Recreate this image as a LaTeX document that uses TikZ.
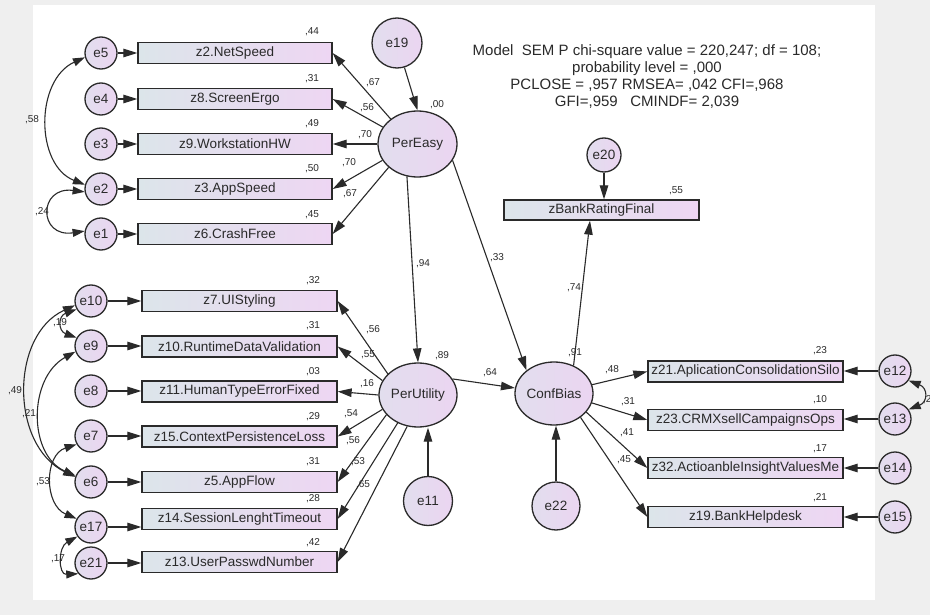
\documentclass[tikz,border=0pt]{standalone}
\usepackage{fontspec}
\setmainfont{Liberation Sans}
\usetikzlibrary{arrows.meta,shapes.geometric,calc}
\definecolor{bgray}{HTML}{EFEFEF}
\definecolor{boxL}{HTML}{DCE5EA}
\definecolor{boxR}{HTML}{EED6F3}
\definecolor{cirL}{HTML}{E2DEEE}
\definecolor{cirR}{HTML}{EBD5F1}
\definecolor{ink}{HTML}{2A2A2A}
\begin{document}
\begin{tikzpicture}[x=1pt,y=-1pt,
 font=\fontsize{13.5}{15}\selectfont,
 obs/.style={draw=ink, line width=1.3pt, left color=boxL, right color=boxR, minimum width=194pt, minimum height=21pt, inner sep=0pt, text=ink},
 err/.style={circle, draw=ink, line width=1.3pt, left color=cirL, right color=cirR, minimum size=32pt, inner sep=0pt, text=ink},
 lat/.style={ellipse, draw=ink, line width=1.3pt, left color=cirL, right color=cirR, minimum width=78pt, minimum height=64pt, inner sep=0pt, text=ink},
 arr/.style={draw=ink, line width=1.1pt, -{Triangle[length=14pt,width=8.5pt]}},
 dbl/.style={draw=ink, line width=1.1pt, {Triangle[length=12pt,width=8pt]}-{Triangle[length=12pt,width=8pt]}},
 lab/.style={font=\fontsize{10}{12}\selectfont, text=ink, inner sep=0pt},
]
\useasboundingbox (0,0) rectangle (930,615);
\fill[bgray] (0,0) rectangle (930,615);
\fill[white] (33,5) rectangle (875,600);

% ---- top group ----
\node[err] (e5) at (101,53) {e5};
\node[err] (e4) at (101,99) {e4};
\node[err] (e3) at (101,144) {e3};
\node[err] (e2) at (101,189) {e2};
\node[err] (e1) at (101,234) {e1};
\node[obs] (z2) at (235,53) {z2.NetSpeed};
\node[obs] (z8) at (235,99) {z8.ScreenErgo};
\node[obs] (z9) at (235,144) {z9.WorkstationHW};
\node[obs] (z3) at (235,189) {z3.AppSpeed};
\node[obs] (z6) at (235,234) {z6.CrashFree};
\node[lat, minimum width=79pt, minimum height=66pt] (PerEasy) at (417.5,144) {PerEasy};
\node[err, minimum size=50pt] (e19) at (397,43) {e19};

\foreach \e/\z in {e5/z2,e4/z8,e3/z9,e2/z3,e1/z6} \draw[arr] (\e) -- (\z.west);
\draw[arr] (e19) -- (PerEasy.north);
\draw[arr] (PerEasy.137) -- (z2.east);
\draw[arr] (PerEasy.154) -- (z8.east);
\draw[arr] (PerEasy.180) -- (z9.east);
\draw[arr] (PerEasy.205) -- (z3.east);
\draw[arr] (PerEasy.219) -- (z6.east);
\draw[dbl] (e5.195) .. controls (35,80) and (35,165) .. (e2.165);
\draw[dbl] (e2.190) .. controls (38,186) and (38,238) .. (e1.170);

\node[lab] (r1) at (312,32) {,44};
\node[lab] (r2) at (312,79) {,31};
\node[lab] (r3) at (312,124) {,49};
\node[lab] (r4) at (312,169) {,50};
\node[lab] (r5) at (312,215) {,45};
\node[lab] (r6) at (437,105) {,00};
\node[lab] (p1) at (373,83) {,67};
\node[lab] (p2) at (367,108) {,56};
\node[lab] (p3) at (365,135) {,70};
\node[lab] (p4) at (349,163) {,70};
\node[lab] (p5) at (350,194) {,67};
\node[lab] (c1) at (32,120) {,58};
\node[lab] (c2) at (42,212) {,24};

% ---- fit text ----
\node[font=\fontsize{15}{17}\selectfont, align=center, text=ink, inner sep=0pt] (fit) at (647,77)
 {Model\ \ SEM P chi-square value = 220,247; df = 108;\\ probability level = ,000\\ PCLOSE = ,957 RMSEA= ,042 CFI=,968\\ GFI=,959\ \ \ CMINDF= 2,039};

% ---- zBankRatingFinal ----
\node[err, minimum size=34pt] (e20) at (604,155) {e20};
\node[obs, minimum width=195pt, minimum height=20pt] (zb) at (601.5,210) {zBankRatingFinal};
\draw[arr] (e20) -- (e20 |- zb.north);
\node[lab] (r7) at (676,191) {,55};

% ---- middle group ----
\node[err] (e10) at (91,301) {e10};
\node[err] (e9) at (91,346) {e9};
\node[err] (e8) at (91,391) {e8};
\node[err] (e7) at (91,436) {e7};
\node[err] (e6) at (91,482) {e6};
\node[err] (e17) at (91,527) {e17};
\node[err] (e21) at (91,563) {e21};
\node[obs, minimum width=195pt] (z7) at (239.5,301) {z7.UIStyling};
\node[obs, minimum width=195pt] (z10) at (239.5,346.5) {z10.RuntimeDataValidation};
\node[obs, minimum width=195pt] (z11) at (239.5,391.5) {z11.HumanTypeErrorFixed};
\node[obs, minimum width=195pt] (z15) at (239.5,436.5) {z15.ContextPersistenceLoss};
\node[obs, minimum width=195pt] (z5) at (239.5,482) {z5.AppFlow};
\node[obs, minimum width=195pt] (z14) at (239.5,519) {z14.SessionLenghtTimeout};
\node[obs, minimum width=195pt] (z13) at (239.5,562) {z13.UserPasswdNumber};
\node[lat] (PerUtility) at (418,395) {PerUtility};
\node[err, minimum size=49pt] (e11) at (428,501) {e11};

\foreach \e/\z in {e10/z7,e9/z10,e8/z11,e7/z15,e6/z5,e21/z13} \draw[arr] (\e) -- (\e -| \z.west);
\draw[arr] (e17) -- (e17 -| z14.west);
\draw[arr] (e11) -- (PerUtility.south -| e11);
\draw[arr] (PerUtility.145) -- (z7.east);
\draw[arr] (PerUtility.158) -- (z10.east);
\draw[arr] (PerUtility.180) -- (z11.east);
\draw[arr] (PerUtility.202) -- (z15.east);
\draw[arr] (PerUtility.212) -- (z5.east);
\draw[arr] (PerUtility.234) -- (z14.east);
\draw[arr] (PerUtility.251) -- (z13.east);
\draw[arr] (PerEasy.-108) -- (PerUtility.north);

\draw[dbl] (e10.210) .. controls (58,316) and (58,331) .. (e9.150);
\draw[dbl] (e10.195) .. controls (10,335) and (10,445) .. (e6.162);
\draw[dbl] (e9.200) .. controls (28,378) and (28,455) .. (e6.158);
\draw[dbl] (e7.210) .. controls (44,455) and (44,505) .. (e17.150);
\draw[dbl] (e17.215) .. controls (58,547) and (58,575) .. (e21.220);

\node[lab] (r8) at (313,281) {,32};
\node[lab] (r9) at (313,326) {,31};
\node[lab] (r10) at (313,372) {,03};
\node[lab] (r11) at (313,417) {,29};
\node[lab] (r12) at (313,462) {,31};
\node[lab] (r13) at (313,499) {,28};
\node[lab] (r14) at (313,543) {,42};
\node[lab] (r15) at (442,356) {,89};
\node[lab] (q1) at (373,330) {,56};
\node[lab] (q2) at (368,355) {,55};
\node[lab] (q3) at (367,384) {,16};
\node[lab] (q4) at (351,414) {,54};
\node[lab] (q5) at (353,441) {,56};
\node[lab] (q6) at (358,462) {,53};
\node[lab] (q7) at (363,485) {,65};
\node[lab] (c3) at (60,323) {,19};
\node[lab] (c4) at (15,391) {,49};
\node[lab] (c5) at (29,414) {,21};
\node[lab] (c6) at (43,482) {,53};
\node[lab] (c7) at (58,559) {,17};
\node[lab] (q8) at (423,264) {,94};

% ---- ConfBias ----
\node[lat, minimum height=63pt] (ConfBias) at (554,393.5) {ConfBias};
\node[err, minimum size=48pt] (e22) at (556,506) {e22};
\node[obs, minimum width=195pt] (z21) at (745.5,371.5) {z21.AplicationConsolidationSilo};
\node[obs, minimum width=195pt] (z23) at (745.5,420) {z23.CRMXsellCampaignsOps};
\node[obs, minimum width=195pt] (z32) at (745.5,468) {z32.ActioanbleInsightValuesMe};
\node[obs, minimum width=195pt] (z19) at (745.5,517) {z19.BankHelpdesk};
\node[err] (e12) at (895,371) {e12};
\node[err] (e13) at (895,419) {e13};
\node[err] (e14) at (895,468) {e14};
\node[err] (e15) at (895,517) {e15};

\draw[arr] (PerEasy.-25) -- (ConfBias.140);
\draw[arr] (PerUtility.25) -- (ConfBias.172);
\draw[arr] (ConfBias.55) -- ($(zb.south)+(-11.5,0)$);
\draw[arr] (e22) -- (ConfBias.south -| e22);
\draw[arr] (ConfBias.13) -- (z21.west);
\draw[arr] (ConfBias.-14) -- (z23.west);
\draw[arr] (ConfBias.-30) -- (z32.west);
\draw[arr] (ConfBias.-42) -- (z19.west);
\foreach \e/\z in {e12/z21,e13/z23,e14/z32,e15/z19} \draw[arr] (\e) -- (\e -| \z.east);
\draw[dbl] (e12.-35) .. controls (928,388) and (928,402) .. (e13.35);

\node[lab] (q9) at (497,258) {,33};
\node[lab] (q10) at (574,288) {,74};
\node[lab] (q11) at (575,353) {,91};
\node[lab] (q12) at (490,373) {,64};
\node[lab] (r16) at (820,351) {,23};
\node[lab] (r17) at (820,400) {,10};
\node[lab] (r18) at (820,449) {,17};
\node[lab] (r19) at (820,498) {,21};
\node[lab] (q13) at (612,370) {,48};
\node[lab] (q14) at (628,402) {,31};
\node[lab] (q15) at (627,433) {,41};
\node[lab] (q16) at (624,460) {,45};
\node[lab, anchor=west] (c8) at (923,400) {,2};
\end{tikzpicture}
\end{document}
